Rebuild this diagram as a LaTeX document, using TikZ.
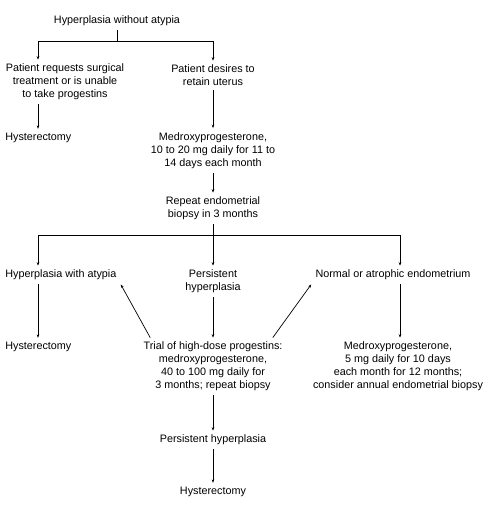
\documentclass[tikz,border=0pt]{standalone}
\usepackage{fontspec}
\setmainfont{Liberation Sans}
\usetikzlibrary{arrows.meta}

\begin{document}
\begin{tikzpicture}
        [x=1pt,y=-1pt,every node/.style={inner sep=4pt,yshift=-2pt,align=center,font=\fontsize{10.8pt}{13pt}\selectfont},
        every path/.style={line width=0.7pt, black}, tip/.style={-{Stealth[length=3.5pt,width=2.6pt]}}]

        \useasboundingbox (0,0) rectangle (501,507);

        \node (top) at (117, 19) {Hyperplasia without atypia};
        \node (req) at (65, 80) {Patient requests surgical\\treatment or is unable\\to take progestins};
        \node (ret) at (213, 73.5) {Patient desires to\\retain uterus};
        \node[anchor=west] (hys1) at (1, 136) {Hysterectomy};
        \node (med1) at (213, 148.5) {Medroxyprogesterone,\\10 to 20 mg daily for 11 to\\14 days each month};
        \node (rep) at (213, 206.5) {Repeat endometrial\\biopsy in 3 months};
        \node[anchor=west] (atyp) at (1, 273) {Hyperplasia with atypia};
        \node (pers) at (213, 279.5) {Persistent\\hyperplasia};
        \node (norm) at (393, 273) {Normal or atrophic endometrium};
        \node[anchor=west] (hys2) at (1, 345) {Hysterectomy};
        \node (trial) at (213, 364.5) {Trial of high-dose progestins:\\medroxyprogesterone,\\40 to 100 mg daily for\\3 months; repeat biopsy};
        \node (medr) at (398, 364.5) {Medroxyprogesterone,\\5 mg daily for 10 days\\each month for 12 months;\\consider annual endometrial biopsy};
        \node (pers2) at (213, 438) {Persistent hyperplasia};
        \node (hys3) at (213, 490) {Hysterectomy};

        \coordinate (b1) at (38, 39);
        \coordinate (b2) at (213, 39);
        \coordinate (c1) at (38, 233);
        \coordinate (c2) at (213, 233);
        \coordinate (c3) at (400, 233);

        \draw (top.south) -- (top.south |- b1);
        \draw (b1) -- (b2);
        \draw[tip] (b1) -- (b1 |- req.north);
        \draw[tip] (b2) -- (ret.north);
        \draw[tip] (b1 |- req.south) -- (b1 |- hys1.north);
        \draw[tip] (ret) -- (med1);
        \draw[tip] (med1) -- (rep);
        \draw (rep.south) -- (c2);
        \draw (c1) -- (c3);
        \draw[tip] (c1) -- (c1 |- atyp.north);
        \draw[tip] (c2) -- (pers.north);
        \draw[tip] (c3) -- (c3 |- norm.north);
        \draw[tip] (c1 |- atyp.south) -- (c1 |- hys2.north);
        \draw[tip] (pers) -- (trial);
        \draw[tip] (c3 |- norm.south) -- (c3 |- medr.north);
        \draw[tip] ([xshift=11pt]trial.north west) -- (atyp.south east);
        \draw[tip] ([xshift=-14pt]trial.north east) -- (norm.south west);
        \draw[tip] (trial) -- (pers2);
        \draw[tip] (pers2) -- (hys3);
      \end{tikzpicture}
\end{document}
